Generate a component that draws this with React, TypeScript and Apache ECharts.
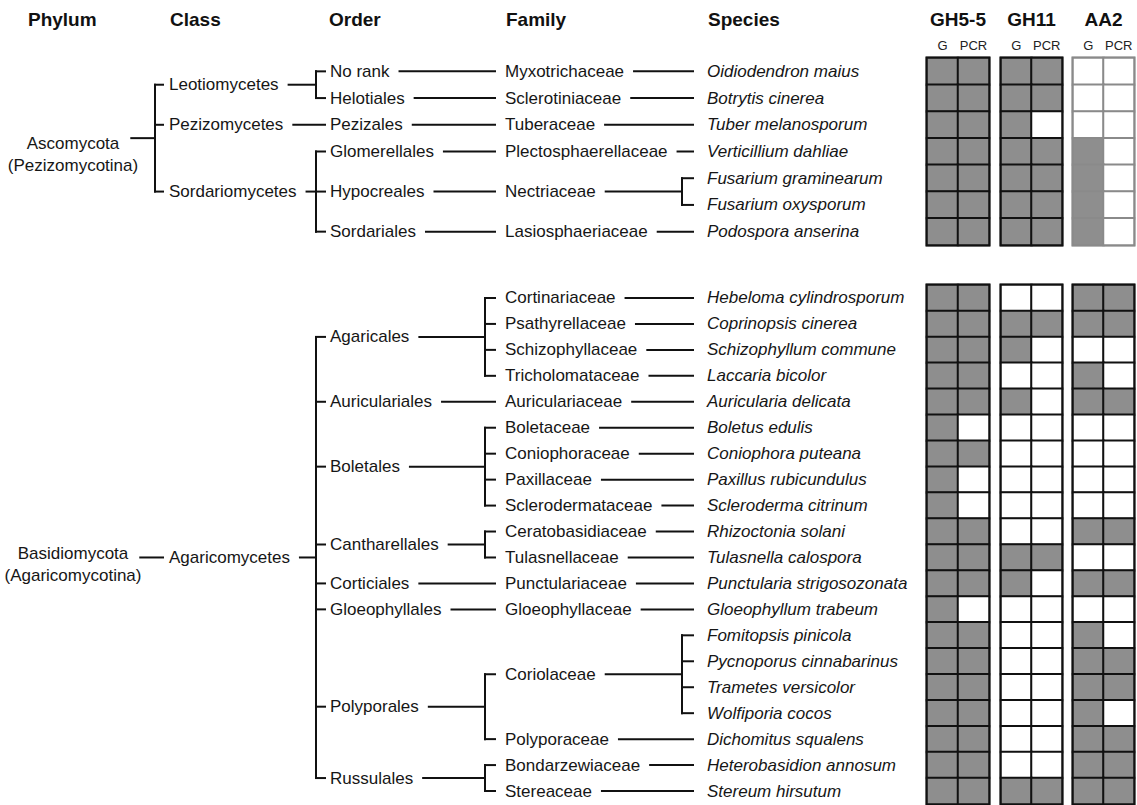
import React, { useEffect, useRef } from 'react';
import * as echarts from 'echarts';

const FONT = 'Arial, "Liberation Sans", Helvetica, sans-serif';
const TEXT_COLOR = '#161616';
const LINE_COLOR = '#111111';
const FILL_ON = '#8e8e8e';
const FILL_OFF = '#ffffff';

// ---------- data ----------
const columnHeaders = ['Phylum', 'Class', 'Order', 'Family', 'Species'];
const genes = ['GH5-5', 'GH11', 'AA2'];
const methods = ['G', 'PCR'];

const ascPhylum = ['Ascomycota', '(Pezizomycotina)'];
const ascClasses = ['Leotiomycetes', 'Leotiomycetes', 'Pezizomycetes', 'Sordariomycetes', 'Sordariomycetes', 'Sordariomycetes', 'Sordariomycetes'];
const ascOrders = ['No rank', 'Helotiales', 'Pezizales', 'Glomerellales', 'Hypocreales', 'Hypocreales', 'Sordariales'];
const ascFamilies = ['Myxotrichaceae', 'Sclerotiniaceae', 'Tuberaceae', 'Plectosphaerellaceae', 'Nectriaceae', 'Nectriaceae', 'Lasiosphaeriaceae'];
const ascSpecies = ['Oidiodendron maius', 'Botrytis cinerea', 'Tuber melanosporum', 'Verticillium dahliae', 'Fusarium graminearum', 'Fusarium oxysporum', 'Podospora anserina'];

// [G, PCR] per species (1 = present)
const ascGH55 = [[1, 1], [1, 1], [1, 1], [1, 1], [1, 1], [1, 1], [1, 1]];
const ascGH11 = [[1, 1], [1, 1], [1, 0], [1, 1], [1, 1], [1, 1], [1, 1]];
const ascAA2 = [[0, 0], [0, 0], [0, 0], [1, 0], [1, 0], [1, 0], [1, 0]];

const basPhylum = ['Basidiomycota', '(Agaricomycotina)'];
const basClasses = Array.from({ length: 20 }, () => 'Agaricomycetes');
const basOrders = ['Agaricales', 'Agaricales', 'Agaricales', 'Agaricales', 'Auriculariales', 'Boletales', 'Boletales', 'Boletales', 'Boletales', 'Cantharellales', 'Cantharellales', 'Corticiales', 'Gloeophyllales', 'Polyporales', 'Polyporales', 'Polyporales', 'Polyporales', 'Polyporales', 'Russulales', 'Russulales'];
const basFamilies = ['Cortinariaceae', 'Psathyrellaceae', 'Schizophyllaceae', 'Tricholomataceae', 'Auriculariaceae', 'Boletaceae', 'Coniophoraceae', 'Paxillaceae', 'Sclerodermataceae', 'Ceratobasidiaceae', 'Tulasnellaceae', 'Punctulariaceae', 'Gloeophyllaceae', 'Coriolaceae', 'Coriolaceae', 'Coriolaceae', 'Coriolaceae', 'Polyporaceae', 'Bondarzewiaceae', 'Stereaceae'];
const basSpecies = ['Hebeloma cylindrosporum', 'Coprinopsis cinerea', 'Schizophyllum commune', 'Laccaria bicolor', 'Auricularia delicata', 'Boletus edulis', 'Coniophora puteana', 'Paxillus rubicundulus', 'Scleroderma citrinum', 'Rhizoctonia solani', 'Tulasnella calospora', 'Punctularia strigosozonata', 'Gloeophyllum trabeum', 'Fomitopsis pinicola', 'Pycnoporus cinnabarinus', 'Trametes versicolor', 'Wolfiporia cocos', 'Dichomitus squalens', 'Heterobasidion annosum', 'Stereum hirsutum'];

const basGH55 = [[1, 1], [1, 1], [1, 1], [1, 1], [1, 1], [1, 0], [1, 1], [1, 0], [1, 0], [1, 1], [1, 1], [1, 1], [1, 0], [1, 1], [1, 1], [1, 1], [1, 1], [1, 1], [1, 1], [1, 1]];
const basGH11 = [[0, 0], [1, 1], [1, 0], [0, 0], [1, 0], [0, 0], [0, 0], [0, 0], [0, 0], [0, 0], [1, 1], [1, 0], [0, 0], [0, 0], [0, 0], [0, 0], [0, 0], [0, 0], [0, 0], [1, 1]];
const basAA2 = [[1, 1], [1, 1], [0, 0], [1, 0], [1, 1], [0, 0], [0, 0], [0, 0], [0, 0], [1, 1], [0, 0], [1, 1], [0, 0], [1, 0], [1, 1], [1, 1], [1, 0], [1, 1], [1, 1], [1, 1]];

// ---------- layout ----------
const W = 1137;
const H = 805;
const HEADER_X = [28, 170, 329, 506, 708];
const TEXT_X = [73, 169, 330, 505, 707];
const BRACKET_X = [0, 155, 316, 485, 682];
const TICK_END = [0, 163, 325, 495, 693];
const GAP = [12, 10, 10, 10, 10];
const TREE_FONT = 17;
const SECTION_TOP = [58, 285];
const SECTION_H = [187, 519];
const PHYLUM_DY = [5, -4];
const GENE_LEFT = [927, 1001, 1073];
const GENE_W = [62, 61, 61];

type TreeNode = { level: number; name: string; y: number; children: TreeNode[] };
type El =
  | { kind: 'line'; x1: number; r1: number; x2: number; r2: number }
  | { kind: 'text'; x: number; r: number; dy: number; text: string; italic: boolean; align: string };

let measureCtx: CanvasRenderingContext2D | null = null;
function textWidth(t: string, italic: boolean): number {
  if (!measureCtx) measureCtx = document.createElement('canvas').getContext('2d');
  if (!measureCtx) return t.length * 8;
  measureCtx.font = `${italic ? 'italic ' : ''}${TREE_FONT}px ${FONT}`;
  return measureCtx.measureText(t).width;
}

function groupRows(levels: string[][], level: number, s: number, e: number): TreeNode[] {
  const out: TreeNode[] = [];
  let i = s;
  while (i <= e) {
    let j = i;
    if (level < 4) {
      while (j + 1 <= e && levels[level][j + 1] === levels[level][i]) j++;
    }
    const children = level < 4 ? groupRows(levels, level + 1, i, j) : [];
    const y = children.length ? (children[0].y + children[children.length - 1].y) / 2 : i;
    out.push({ level, name: levels[level][i], y, children });
    i = j + 1;
  }
  return out;
}

function buildElements(phylum: string[], classes: string[], orders: string[], families: string[], species: string[], phylumDy: number): El[] {
  const n = species.length;
  const levels = [Array.from({ length: n }, () => phylum[0]), classes, orders, families, species];
  const roots = groupRows(levels, 0, 0, n - 1);
  const els: El[] = [];
  const emit = (node: TreeNode) => {
    let end: number;
    if (node.level === 0) {
      els.push({ kind: 'text', x: TEXT_X[0], r: node.y, dy: phylumDy, text: phylum[0], italic: false, align: 'center' });
      els.push({ kind: 'text', x: TEXT_X[0], r: node.y, dy: phylumDy + 22, text: phylum[1], italic: false, align: 'center' });
      end = TEXT_X[0] + textWidth(phylum[0], false) / 2;
    } else {
      const it = node.level === 4;
      els.push({ kind: 'text', x: TEXT_X[node.level], r: node.y, dy: 0, text: node.name, italic: it, align: 'left' });
      end = TEXT_X[node.level] + textWidth(node.name, it);
    }
    if (!node.children.length) return;
    const cl = node.level + 1;
    const start = end + GAP[node.level];
    if (node.children.length === 1) {
      els.push({ kind: 'line', x1: start, r1: node.y, x2: TICK_END[cl], r2: node.y });
    } else {
      const first = node.children[0];
      const last = node.children[node.children.length - 1];
      els.push({ kind: 'line', x1: start, r1: node.y, x2: BRACKET_X[cl], r2: node.y });
      els.push({ kind: 'line', x1: BRACKET_X[cl], r1: first.y, x2: BRACKET_X[cl], r2: last.y });
      node.children.forEach((c) => els.push({ kind: 'line', x1: BRACKET_X[cl], r1: c.y, x2: TICK_END[cl], r2: c.y }));
    }
    node.children.forEach(emit);
  };
  roots.forEach(emit);
  return els;
}

function treeSeries(els: El[], axisIndex: number) {
  return {
    type: 'custom',
    xAxisIndex: axisIndex,
    yAxisIndex: axisIndex,
    silent: true,
    data: els.map((_, i) => [i, 0]),
    renderItem: (params: any, api: any) => {
      const e = els[params.dataIndex];
      if (e.kind === 'line') {
        const p1 = api.coord([e.x1, e.r1]);
        const p2 = api.coord([e.x2, e.r2]);
        return {
          type: 'line',
          shape: { x1: p1[0], y1: p1[1], x2: p2[0], y2: p2[1] },
          style: { stroke: LINE_COLOR, lineWidth: 2, lineCap: 'square' },
        };
      }
      const p = api.coord([e.x, e.r]);
      return {
        type: 'text',
        x: p[0],
        y: p[1] + e.dy,
        style: {
          text: e.text,
          fill: TEXT_COLOR,
          fontSize: TREE_FONT,
          fontFamily: FONT,
          fontStyle: e.italic ? 'italic' : 'normal',
          align: e.align,
          verticalAlign: 'middle',
        },
      };
    },
  };
}

function heatData(values: number[][]) {
  const out: number[][] = [];
  values.forEach((pair, r) => pair.forEach((v, c) => out.push([c, r, v])));
  return out;
}

export default function App() {
  const ref = useRef<HTMLDivElement>(null);
  useEffect(() => {
    document.body.style.margin = '0';
    if (!ref.current) return;
    const chart = echarts.init(ref.current, null, { renderer: 'svg' });

    const ascEls = buildElements(ascPhylum, ascClasses, ascOrders, ascFamilies, ascSpecies, PHYLUM_DY[0]);
    const basEls = buildElements(basPhylum, basClasses, basOrders, basFamilies, basSpecies, PHYLUM_DY[1]);
    const ascVals = [ascGH55, ascGH11, ascAA2];
    const basVals = [basGH55, basGH11, basAA2];
    const sectionSpecies = [ascSpecies, basSpecies];

    const grids: any[] = [
      { left: 0, top: SECTION_TOP[0], width: W, height: SECTION_H[0], show: false },
      { left: 0, top: SECTION_TOP[1], width: W, height: SECTION_H[1], show: false },
    ];
    const xAxes: any[] = [
      { type: 'value', gridIndex: 0, min: 0, max: W, show: false },
      { type: 'value', gridIndex: 1, min: 0, max: W, show: false },
    ];
    const yAxes: any[] = [
      { type: 'value', gridIndex: 0, min: -0.5, max: ascSpecies.length - 0.5, inverse: true, show: false },
      { type: 'value', gridIndex: 1, min: -0.5, max: basSpecies.length - 0.5, inverse: true, show: false },
    ];
    const series: any[] = [treeSeries(ascEls, 0), treeSeries(basEls, 1)];
    const heatIdx: number[] = [];

    [0, 1].forEach((s) => {
      genes.forEach((g, gi) => {
        const idx = grids.length;
        const faint = s === 0 && gi === 2;
        grids.push({
          left: GENE_LEFT[gi],
          top: SECTION_TOP[s],
          width: GENE_W[gi],
          height: SECTION_H[s],
          show: true,
          backgroundColor: 'rgba(0,0,0,0)',
          borderColor: faint ? '#8a8a8a' : '#111',
          borderWidth: 3,
        });
        if (s === 0) {
          xAxes.push({
            type: 'category',
            gridIndex: idx,
            data: methods,
            position: 'top',
            axisLine: { show: false },
            axisTick: { show: false },
            splitLine: { show: false },
            axisLabel: { interval: 0, fontSize: 13, color: '#222', margin: 6, fontFamily: FONT, hideOverlap: false },
            name: g,
            nameLocation: 'middle',
            nameGap: 29,
            nameTextStyle: { fontSize: 19, fontWeight: 'bold', color: '#111', fontFamily: FONT },
          });
        } else {
          xAxes.push({ type: 'category', gridIndex: idx, data: methods, show: false });
        }
        yAxes.push({ type: 'category', gridIndex: idx, data: sectionSpecies[s], inverse: true, show: false });
        heatIdx.push(series.length);
        series.push({
          type: 'heatmap',
          xAxisIndex: idx,
          yAxisIndex: idx,
          silent: true,
          data: heatData(s === 0 ? ascVals[gi] : basVals[gi]),
          itemStyle: { borderColor: faint ? '#8a8a8a' : '#111', borderWidth: 2 },
          emphasis: { disabled: true },
        });
      });
    });

    const option: any = {
      animation: false,
      backgroundColor: '#ffffff',
      textStyle: { fontFamily: FONT },
      grid: grids,
      xAxis: xAxes,
      yAxis: yAxes,
      visualMap: [
        {
          type: 'piecewise',
          show: false,
          seriesIndex: heatIdx,
          dimension: 2,
          pieces: [
            { value: 0, color: FILL_OFF },
            { value: 1, color: FILL_ON },
          ],
        },
      ],
      graphic: columnHeaders.map((h, i) => ({
        type: 'text',
        x: HEADER_X[i],
        y: 19,
        silent: true,
        style: {
          text: h,
          fontSize: 19,
          fontWeight: 'bold',
          fontFamily: FONT,
          fill: '#111',
          verticalAlign: 'middle',
        },
      })),
      series,
    };
    chart.setOption(option);
    return () => chart.dispose();
  }, []);
  return <div ref={ref} style={{ width: W, height: H }} />;
}
